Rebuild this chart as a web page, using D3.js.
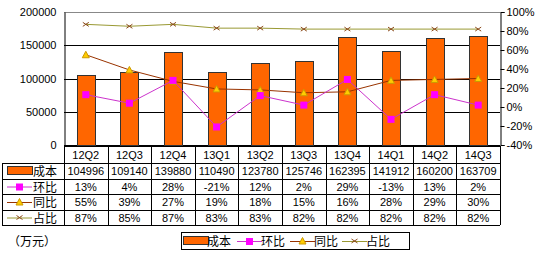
<!DOCTYPE html>
<html>
<head>
<meta charset="utf-8">
<script src="https://cdn.jsdelivr.net/npm/d3@7"></script>
<style>
body{margin:0;background:#fff}
text{font-family:"Liberation Sans","Noto Sans CJK SC",sans-serif;font-size:11px;fill:#000}
.cn{font-family:"Noto Sans CJK SC",sans-serif;font-size:12px}
</style>
</head>
<body>
<svg width="536" height="255"></svg>
<script>
// 数据
var quarters = ["12Q2","12Q3","12Q4","13Q1","13Q2","13Q3","13Q4","14Q1","14Q2","14Q3"];
var cost = [104996,109140,139880,110490,123780,125746,162395,141912,160200,163709];
var huanbi = [13,4,28,-21,12,2,29,-13,13,2];
var tongbi = [55,39,27,19,18,15,16,28,29,30];
var zhanbi = [87,85,87,83,83,82,82,82,82,82];
var leftTicks = [0,50000,100000,150000,200000];
var rightTicks = [-40,-20,0,20,40,60,80,100];

var svg = d3.select("svg");
var pLeft = 64, pRight = 500, pTop = 12, pBottom = 145;

var x = d3.scaleBand().domain(quarters).range([pLeft,pRight]).paddingInner(0.59).paddingOuter(0.295);
var xb = d3.scaleBand().domain(quarters).range([pLeft,pRight]);
var y = d3.scaleLinear().domain([0,200000]).range([pBottom,pTop]);
var y2 = d3.scaleLinear().domain([-40,100]).range([pBottom,pTop]);

// 网格线
svg.selectAll(".grid").data(leftTicks).enter().append("line")
  .attr("x1",pLeft).attr("x2",pRight)
  .attr("y1",function(d){return Math.round(y(d))+0.5})
  .attr("y2",function(d){return Math.round(y(d))+0.5})
  .attr("stroke",function(d){return d==200000?"#888":"#000"});

// 左轴
var ax = svg.append("g").attr("transform","translate("+(pLeft+0.5)+",0)")
  .call(d3.axisLeft(y).tickValues(leftTicks).tickSize(0).tickPadding(8).tickFormat(d3.format("d")));
ax.select(".domain").attr("stroke","#000");

// 右轴
var ax2 = svg.append("g").attr("transform","translate("+(pRight+0.5)+",0)")
  .call(d3.axisRight(y2).tickValues(rightTicks).tickSize(4).tickPadding(2).tickFormat(function(d){return d+"%"}));
ax2.select(".domain").attr("stroke","#000");
ax.attr("font-family",null).attr("font-size",null);
ax2.attr("font-family",null).attr("font-size",null);

// 柱子
svg.selectAll(".bar").data(cost).enter().append("rect")
  .attr("x",function(d,i){return Math.round(x(quarters[i]))+0.5})
  .attr("y",function(d){return Math.round(y(d))+0.5})
  .attr("width",Math.round(x.bandwidth()))
  .attr("height",function(d){return pBottom-Math.round(y(d))})
  .attr("fill","#FF6600").attr("stroke","#333");

function cx(i){return xb(quarters[i])+xb.bandwidth()/2}

var lineH = d3.line().x(function(d,i){return cx(i)}).y(function(d){return y2(d)});

// 占比
svg.append("path").datum(zhanbi).attr("d",lineH).attr("fill","none").attr("stroke","#999933");
svg.selectAll(".zb").data(zhanbi).enter().append("path")
  .attr("transform",function(d,i){return "translate("+cx(i)+","+y2(d)+")"})
  .attr("d","M-3,-2L3,2M-3,2L3,-2").attr("stroke","#8B4A1A").attr("fill","none");

// 同比
svg.append("path").datum(tongbi).attr("d",lineH).attr("fill","none").attr("stroke","#993300");
svg.selectAll(".tb").data(tongbi).enter().append("path")
  .attr("transform",function(d,i){return "translate("+cx(i)+","+y2(d)+")"})
  .attr("d","M0,-3.5L3.5,3L-3.5,3Z").attr("fill","#FFCC00").attr("stroke","#CC9900");

// 环比
svg.append("path").datum(huanbi).attr("d",lineH).attr("fill","none").attr("stroke","#CC33CC");
svg.selectAll(".hb").data(huanbi).enter().append("rect")
  .attr("x",function(d,i){return cx(i)-3.5}).attr("y",function(d){return y2(d)-3.5})
  .attr("width",7).attr("height",7).attr("fill","#FF00FF");

// 数据表
var rows = [146,163,179,194,210,225];
var tbl = svg.append("g");
// 横线
rows.forEach(function(r,k){
  tbl.append("line").attr("x1",k==0?pLeft:2).attr("x2",pRight)
    .attr("y1",r+0.5).attr("y2",r+0.5).attr("stroke","#000");
});
// 竖线
quarters.concat(["end"]).forEach(function(q,i){
  var xx = i<quarters.length ? xb(q) : pRight;
  tbl.append("line").attr("x1",Math.round(xx)+0.5).attr("x2",Math.round(xx)+0.5)
    .attr("y1",rows[0]).attr("y2",rows[5]).attr("stroke","#000");
});
tbl.append("line").attr("x1",2.5).attr("x2",2.5).attr("y1",rows[1]).attr("y2",rows[5]).attr("stroke","#000");

tbl.selectAll(".q").data(quarters).enter().append("text")
  .attr("x",function(d,i){return cx(i)}).attr("y",(rows[0]+rows[1])/2+4)
  .attr("text-anchor","middle").text(function(d){return d});

var series = [cost, huanbi, tongbi, zhanbi];
var names = ["成本","环比","同比","占比"];
series.forEach(function(s,k){
  var ym = (rows[k+1]+rows[k+2])/2;
  tbl.selectAll(".r"+k).data(s).enter().append("text")
    .attr("x",function(d,i){return cx(i)}).attr("y",ym+4)
    .attr("text-anchor","middle")
    .text(function(d){return k==0?d:d+"%"});
  tbl.append("text").attr("class","cn").attr("x",33).attr("y",ym+5).text(names[k]);
});

function key(g,k,x0,ym){
  if(k==0){
    g.append("rect").attr("x",x0+0.5).attr("y",ym-4.5).attr("width",25).attr("height",8)
      .attr("fill","#FF6600").attr("stroke","#333");
  } else {
    var col = ["","#CC33CC","#993300","#999933"][k];
    g.append("line").attr("x1",x0).attr("x2",x0+25).attr("y1",ym+0.5).attr("y2",ym+0.5).attr("stroke",col);
    var m = x0+12.5;
    if(k==1) g.append("rect").attr("x",m-3.5).attr("y",ym-3).attr("width",7).attr("height",7).attr("fill","#FF00FF");
    if(k==2) g.append("path").attr("transform","translate("+m+","+ym+")").attr("d","M0,-3.5L3.5,3L-3.5,3Z").attr("fill","#FFCC00").attr("stroke","#CC9900");
    if(k==3) g.append("path").attr("transform","translate("+m+","+ym+")").attr("d","M-3,-2L3,2M-3,2L3,-2").attr("stroke","#8B4A1A");
  }
}
names.forEach(function(n,k){ key(tbl,k,7,(rows[k+1]+rows[k+2])/2); });

// 单位
svg.append("text").attr("class","cn").attr("x",8).attr("y",246).text("（万元）");

// 图例
var lg = svg.append("g");
lg.append("rect").attr("x",181.5).attr("y",232.5).attr("width",228).attr("height",17)
  .attr("fill","#fff").attr("stroke","#000");
var lx = [183,237,290,342];
names.forEach(function(n,k){
  key(lg,k,lx[k],241);
  lg.append("text").attr("class","cn").attr("x",lx[k]+24).attr("y",246).text(n);
});
</script>
</body>
</html>
